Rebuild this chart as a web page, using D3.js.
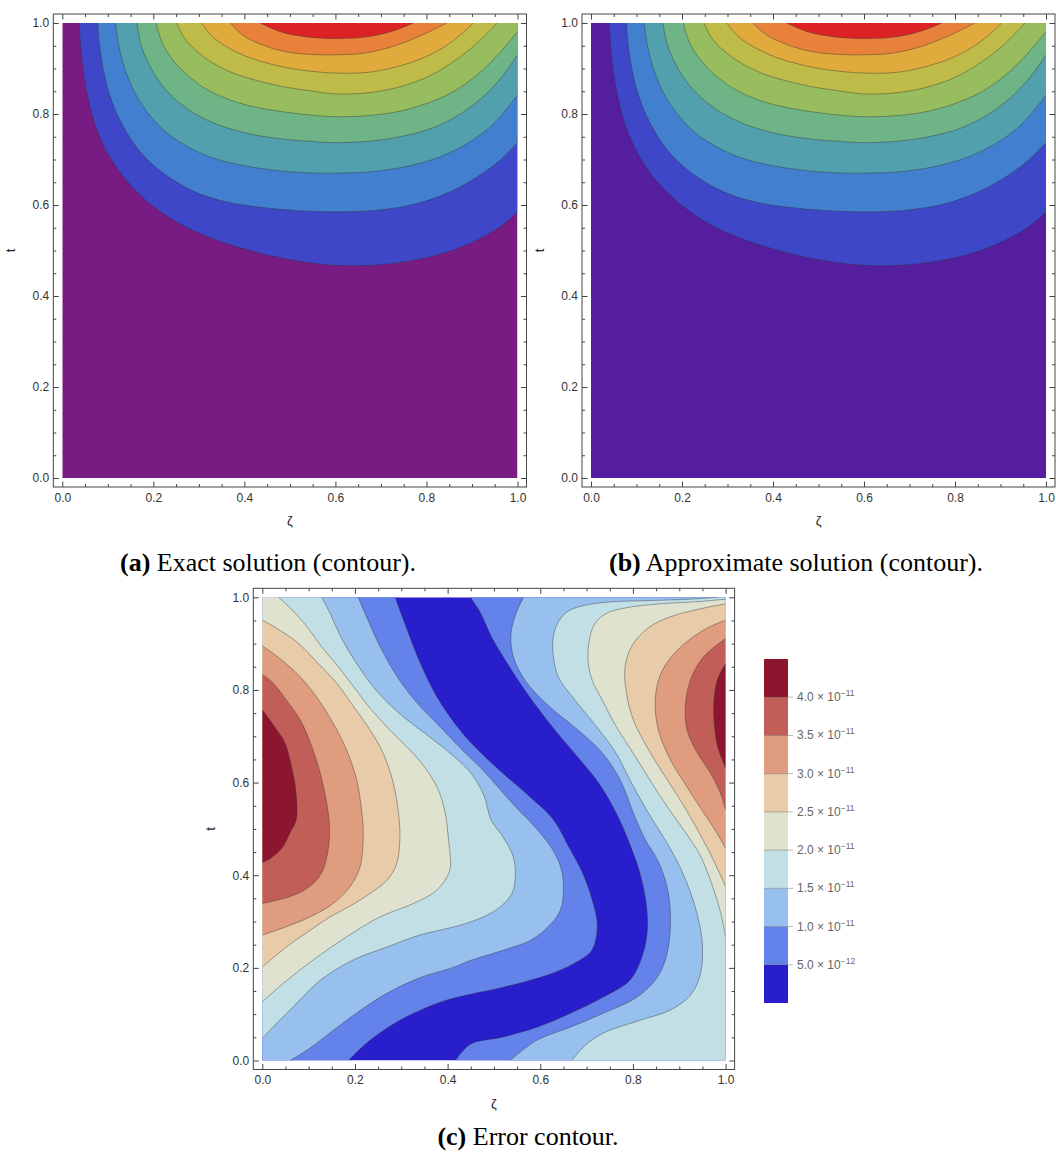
<!DOCTYPE html>
<html>
<head>
<meta charset="utf-8">
<script src="https://cdn.jsdelivr.net/npm/d3@7"></script>
<style>
body { margin: 0; background: #fff; }
</style>
</head>
<body>
<script>
// ---- tick values shared by all frames ----
var majorTicks = [0, 0.2, 0.4, 0.6, 0.8, 1.0];
var minorTicks = [0.05, 0.1, 0.15, 0.25, 0.3, 0.35, 0.45, 0.5, 0.55, 0.65, 0.7, 0.75, 0.85, 0.9, 0.95];

// ---- (a) exact solution: contour lines, [zeta, t], lowest level first ----
var exact1 = [[0.037,1],[0.041,0.941],[0.048,0.881],[0.059,0.824],[0.074,0.771],[0.096,0.721],[0.125,0.675],[0.162,0.631],[0.208,0.591],[0.263,0.556],[0.325,0.528],[0.391,0.506],[0.468,0.486],[0.544,0.473],[0.610,0.467],[0.687,0.468],[0.764,0.477],[0.841,0.495],[0.907,0.521],[0.962,0.552],[1,0.585]];
var exact2 = [[0.078,1],[0.083,0.941],[0.094,0.879],[0.111,0.822],[0.136,0.769],[0.166,0.723],[0.204,0.684],[0.250,0.651],[0.303,0.624],[0.364,0.606],[0.435,0.595],[0.511,0.588],[0.599,0.585],[0.687,0.588],[0.775,0.602],[0.852,0.629],[0.918,0.666],[0.962,0.699],[1,0.737]];
var exact3 = [[0.117,1],[0.125,0.945],[0.140,0.892],[0.162,0.842],[0.193,0.796],[0.230,0.758],[0.276,0.728],[0.329,0.704],[0.391,0.688],[0.461,0.677],[0.533,0.671],[0.599,0.670],[0.676,0.673],[0.753,0.684],[0.830,0.706],[0.896,0.739],[0.951,0.782],[1,0.842]];
var exact4 = [[0.164,1],[0.173,0.952],[0.191,0.908],[0.217,0.866],[0.252,0.829],[0.296,0.798],[0.349,0.774],[0.408,0.757],[0.474,0.746],[0.544,0.740],[0.599,0.737],[0.672,0.740],[0.742,0.750],[0.813,0.769],[0.874,0.800],[0.929,0.842],[0.969,0.886],[1,0.930]];
var exact5 = [[0.206,1],[0.219,0.958],[0.241,0.921],[0.272,0.888],[0.309,0.859],[0.355,0.836],[0.408,0.819],[0.470,0.807],[0.533,0.799],[0.599,0.794],[0.665,0.796],[0.731,0.804],[0.797,0.822],[0.857,0.848],[0.909,0.884],[0.955,0.928],[1,0.981]];
var exact6 = [[0.251,1],[0.268,0.967],[0.294,0.939],[0.329,0.913],[0.373,0.891],[0.426,0.874],[0.485,0.860],[0.544,0.851],[0.599,0.844],[0.665,0.846],[0.731,0.857],[0.797,0.879],[0.852,0.910],[0.907,0.952],[0.955,1]];
var exact7 = [[0.306,1],[0.329,0.971],[0.364,0.946],[0.408,0.925],[0.461,0.909],[0.522,0.897],[0.599,0.890],[0.676,0.892],[0.742,0.906],[0.797,0.925],[0.852,0.956],[0.903,1]];
var exact8 = [[0.369,1],[0.397,0.973],[0.439,0.952],[0.490,0.937],[0.544,0.931],[0.599,0.930],[0.665,0.934],[0.731,0.950],[0.791,0.974],[0.845,1]];
var exact9 = [[0.435,1],[0.479,0.981],[0.533,0.970],[0.599,0.966],[0.665,0.969],[0.725,0.982],[0.771,1]];

// ---- (b) approximate solution ----
var approx1 = [[0.040,1],[0.044,0.941],[0.051,0.881],[0.062,0.824],[0.077,0.771],[0.099,0.721],[0.127,0.675],[0.164,0.631],[0.210,0.591],[0.264,0.556],[0.326,0.528],[0.392,0.506],[0.468,0.486],[0.544,0.473],[0.610,0.467],[0.687,0.468],[0.764,0.477],[0.841,0.495],[0.907,0.521],[0.962,0.552],[1,0.585]];
var approx2 = [[0.078,1],[0.083,0.941],[0.094,0.879],[0.111,0.822],[0.136,0.769],[0.166,0.723],[0.204,0.684],[0.250,0.651],[0.303,0.624],[0.364,0.606],[0.435,0.595],[0.511,0.588],[0.599,0.585],[0.687,0.588],[0.775,0.602],[0.852,0.629],[0.918,0.666],[0.962,0.699],[1,0.737]];
var approx3 = [[0.117,1],[0.125,0.945],[0.140,0.892],[0.162,0.842],[0.193,0.796],[0.230,0.758],[0.276,0.728],[0.329,0.704],[0.391,0.688],[0.461,0.677],[0.533,0.671],[0.599,0.670],[0.676,0.673],[0.753,0.684],[0.830,0.706],[0.896,0.739],[0.951,0.782],[1,0.842]];
var approx4 = [[0.158,1],[0.168,0.952],[0.187,0.908],[0.214,0.866],[0.250,0.829],[0.295,0.798],[0.348,0.774],[0.408,0.757],[0.474,0.746],[0.544,0.740],[0.599,0.737],[0.672,0.740],[0.742,0.750],[0.813,0.769],[0.874,0.800],[0.929,0.842],[0.969,0.886],[1,0.930]];
var approx5 = [[0.203,1],[0.216,0.958],[0.239,0.921],[0.270,0.888],[0.308,0.859],[0.354,0.836],[0.408,0.819],[0.470,0.807],[0.533,0.799],[0.599,0.794],[0.665,0.796],[0.731,0.804],[0.797,0.822],[0.857,0.848],[0.909,0.884],[0.955,0.928],[1,0.981]];
var approx6 = [[0.248,1],[0.265,0.967],[0.292,0.939],[0.328,0.913],[0.372,0.891],[0.425,0.874],[0.485,0.860],[0.544,0.851],[0.599,0.844],[0.665,0.846],[0.731,0.857],[0.797,0.879],[0.852,0.910],[0.907,0.952],[0.954,1]];
var approx7 = [[0.298,1],[0.323,0.971],[0.360,0.946],[0.405,0.925],[0.459,0.909],[0.521,0.897],[0.599,0.890],[0.676,0.892],[0.742,0.906],[0.797,0.925],[0.852,0.956],[0.903,1]];
var approx8 = [[0.355,1],[0.387,0.973],[0.432,0.952],[0.486,0.937],[0.543,0.931],[0.599,0.930],[0.665,0.934],[0.731,0.950],[0.791,0.974],[0.844,1]];
var approx9 = [[0.430,1],[0.476,0.981],[0.532,0.970],[0.599,0.966],[0.665,0.969],[0.725,0.982],[0.771,1]];

// ---- (c) error contour lines, [zeta, t] ----
var err05L = [[0.287,1],[0.313,0.929],[0.341,0.858],[0.377,0.785],[0.427,0.713],[0.470,0.666],[0.524,0.616],[0.578,0.569],[0.626,0.523],[0.665,0.455],[0.693,0.401],[0.712,0.347],[0.723,0.293],[0.712,0.239],[0.686,0.217],[0.628,0.189],[0.520,0.158],[0.449,0.143],[0.384,0.126],[0.297,0.087],[0.233,0.044],[0.186,0]];
var err05R = [[0.449,1],[0.470,0.968],[0.496,0.912],[0.531,0.854],[0.574,0.789],[0.628,0.718],[0.686,0.649],[0.729,0.595],[0.766,0.530],[0.794,0.465],[0.816,0.401],[0.829,0.336],[0.831,0.282],[0.822,0.232],[0.794,0.174],[0.736,0.137],[0.665,0.102],[0.593,0.072],[0.520,0.051],[0.449,0.035],[0.417,0]];
var err10L = [[0.207,1],[0.228,0.951],[0.255,0.892],[0.292,0.827],[0.335,0.771],[0.385,0.719],[0.432,0.670],[0.477,0.626],[0.515,0.583],[0.550,0.544],[0.585,0.508],[0.621,0.464],[0.643,0.421],[0.650,0.374],[0.643,0.324],[0.615,0.287],[0.578,0.259],[0.520,0.238],[0.449,0.216],[0.412,0.201],[0.341,0.179],[0.269,0.145],[0.211,0.108],[0.153,0.065],[0.103,0.027],[0.060,0]];
var err10R = [[0.564,1],[0.548,0.966],[0.537,0.923],[0.541,0.875],[0.567,0.821],[0.621,0.763],[0.682,0.713],[0.734,0.664],[0.773,0.605],[0.801,0.534],[0.827,0.476],[0.853,0.433],[0.874,0.374],[0.881,0.303],[0.874,0.232],[0.853,0.180],[0.809,0.137],[0.736,0.102],[0.665,0.072],[0.593,0.044],[0.535,0]];
var err15L = [[0.128,1],[0.146,0.966],[0.170,0.914],[0.203,0.858],[0.245,0.800],[0.295,0.750],[0.350,0.707],[0.405,0.664],[0.450,0.621],[0.478,0.573],[0.494,0.519],[0.520,0.482],[0.542,0.439],[0.546,0.396],[0.539,0.361],[0.513,0.331],[0.477,0.310],[0.427,0.292],[0.341,0.271],[0.269,0.245],[0.196,0.217],[0.125,0.173],[0.066,0.115],[0.023,0.072],[0,0.048]];
var err15R = [[0.984,1],[0.924,0.996],[0.837,0.993],[0.751,0.990],[0.697,0.983],[0.660,0.970],[0.639,0.947],[0.628,0.914],[0.628,0.875],[0.639,0.828],[0.675,0.778],[0.719,0.724],[0.762,0.666],[0.794,0.605],[0.827,0.545],[0.863,0.487],[0.894,0.433],[0.920,0.374],[0.939,0.314],[0.950,0.249],[0.945,0.184],[0.924,0.141],[0.881,0.109],[0.816,0.087],[0.740,0.061],[0.697,0.033],[0.668,0]];
var err20L = [[0.035,1],[0.064,0.973],[0.096,0.937],[0.128,0.893],[0.161,0.854],[0.197,0.807],[0.233,0.760],[0.276,0.713],[0.319,0.670],[0.355,0.627],[0.380,0.584],[0.395,0.534],[0.402,0.476],[0.405,0.447],[0.405,0.411],[0.377,0.368],[0.326,0.339],[0.254,0.310],[0.182,0.267],[0.110,0.217],[0.053,0.173],[0,0.127]];
var err20R = [[1,0.996],[0.945,0.991],[0.859,0.986],[0.783,0.977],[0.740,0.964],[0.716,0.940],[0.706,0.908],[0.703,0.865],[0.712,0.821],[0.734,0.778],[0.762,0.724],[0.799,0.666],[0.837,0.605],[0.876,0.545],[0.913,0.493],[0.945,0.443],[0.971,0.379],[0.989,0.320],[1,0.267]];
var err25L = [[0,0.951],[0.031,0.933],[0.074,0.904],[0.117,0.861],[0.161,0.814],[0.197,0.764],[0.233,0.713],[0.261,0.663],[0.283,0.598],[0.294,0.533],[0.297,0.480],[0.290,0.425],[0.269,0.389],[0.233,0.361],[0.189,0.333],[0.146,0.310],[0.103,0.281],[0.052,0.245],[0,0.202]];
var err25R = [[1,0.986],[0.945,0.975],[0.881,0.958],[0.833,0.934],[0.799,0.897],[0.783,0.850],[0.786,0.793],[0.801,0.735],[0.829,0.679],[0.863,0.623],[0.898,0.569],[0.930,0.515],[0.963,0.454],[0.984,0.411],[1,0.375]];
var err30L = [[0,0.895],[0.038,0.868],[0.081,0.829],[0.117,0.785],[0.153,0.728],[0.182,0.670],[0.204,0.605],[0.215,0.533],[0.218,0.490],[0.211,0.418],[0.189,0.375],[0.153,0.339],[0.103,0.310],[0.052,0.289],[0,0.271]];
var err30R = [[1,0.951],[0.952,0.929],[0.896,0.886],[0.861,0.837],[0.848,0.778],[0.855,0.713],[0.881,0.649],[0.917,0.590],[0.952,0.536],[0.980,0.493],[1,0.458]];
var err35L = [[0,0.834],[0.024,0.814],[0.052,0.778],[0.082,0.735],[0.107,0.677],[0.125,0.620],[0.138,0.562],[0.145,0.505],[0.142,0.455],[0.128,0.405],[0.100,0.374],[0.060,0.354],[0,0.339]];
var err35R = [[1,0.911],[0.952,0.871],[0.924,0.821],[0.913,0.763],[0.917,0.713],[0.939,0.664],[0.967,0.621],[0.989,0.577],[1,0.541]];
var err40L = [[0,0.757],[0.027,0.720],[0.049,0.685],[0.063,0.634],[0.073,0.577],[0.073,0.519],[0.060,0.492],[0.042,0.458],[0.017,0.436],[0,0.427]];
var err40R = [[1,0.857],[0.982,0.821],[0.975,0.778],[0.975,0.735],[0.982,0.681],[1,0.631]];

// legend levels of (c)
var errLevels = ["5.0", "1.0", "1.5", "2.0", "2.5", "3.0", "3.5", "4.0"];
var errExps = ["12", "11", "11", "11", "11", "11", "11", "11"];

// ---- palettes ----
var solColors = ["#781c84", "#3d47c8", "#427fcf", "#52a0ae", "#6fb486", "#98bd5f", "#bebb48", "#e0ab3c", "#e8813a", "#dc2224"];
var approxBase = "#541e9e";
var errColors = ["#281ecb", "#6383eb", "#97c0ef", "#c2dfe6", "#dfe2cf", "#e8cba9", "#df9c7e", "#c25e58", "#8b162e"];

var width = 1056, height = 1160;
var svg = d3.select("body").append("svg").attr("width", width).attr("height", height);

var sans = "'Liberation Sans', Arial, sans-serif";
var serif = "'Liberation Serif', 'Times New Roman', serif";
var pad = 9;

// contour list helpers
function solList(lines) {
  return lines.map(function(pts, i) {
    var last = pts[pts.length - 1];
    return { level: i + 1, pts: pts, via: last[0] === 1 ? [[1, 1]] : [] };
  });
}

var errList = [
  { level: 1, pts: err05L, via: [[0, 0], [0, 1]] },
  { level: 1, pts: err05R, via: [[1, 0], [1, 1]] },
  { level: 2, pts: err10L, via: [[0, 0], [0, 1]] },
  { level: 2, pts: err10R, via: [[1, 0], [1, 1]] },
  { level: 3, pts: err15L, via: [[0, 1]] },
  { level: 3, pts: err15R, via: [[1, 0], [1, 1]] },
  { level: 4, pts: err20L, via: [[0, 1]] },
  { level: 4, pts: err20R, via: [] },
  { level: 5, pts: err25L, via: [] },
  { level: 5, pts: err25R, via: [] },
  { level: 6, pts: err30L, via: [] },
  { level: 6, pts: err30R, via: [] },
  { level: 7, pts: err35L, via: [] },
  { level: 7, pts: err35R, via: [] },
  { level: 8, pts: err40L, via: [] },
  { level: 8, pts: err40R, via: [] }
];

var clipCount = 0;
function drawPanel(opt) {
  var x = d3.scaleLinear().domain([0, 1]).range(opt.xr);
  var y = d3.scaleLinear().domain([0, 1]).range(opt.yr);
  var g = svg.append("g");
  var id = "clip" + (clipCount++);
  g.append("clipPath").attr("id", id).append("rect")
    .attr("x", x(0)).attr("y", y(1)).attr("width", x(1) - x(0)).attr("height", y(0) - y(1));

  var plot = g.append("g").attr("clip-path", "url(#" + id + ")");
  plot.append("rect").attr("x", x(0)).attr("y", y(1)).attr("width", x(1) - x(0)).attr("height", y(0) - y(1))
    .attr("fill", opt.base);

  var line = d3.line().x(function(d) { return x(d[0]); }).y(function(d) { return y(d[1]); })
    .curve(d3.curveCatmullRom.alpha(0.5));

  opt.contours.forEach(function(c) {
    var d = line(c.pts) + c.via.map(function(p) { return "L" + x(p[0]) + "," + y(p[1]); }).join("") + "Z";
    plot.append("path").attr("d", d).attr("fill", opt.colors[c.level]);
  });
  opt.contours.forEach(function(c) {
    plot.append("path").attr("d", line(c.pts)).attr("fill", "none")
      .attr("stroke", "#333").attr("stroke-opacity", 0.6).attr("stroke-width", 0.7);
  });

  // frame
  var fx0 = x(0) - pad, fx1 = x(1) + pad, fy0 = y(0) + pad, fy1 = y(1) - pad;
  function axisStyle(a) {
    a.select(".domain").remove();
    a.attr("font-family", sans).attr("font-size", 12).attr("color", "#444");
    a.selectAll("text").attr("fill", "#333");
  }
  var fmt = d3.format(".1f");
  g.append("g").attr("transform", "translate(0," + fy0 + ")")
    .call(d3.axisBottom(x).tickValues(majorTicks).tickSize(-5.5).tickPadding(6).tickFormat(fmt)).call(axisStyle);
  g.append("g").attr("transform", "translate(0," + fy0 + ")")
    .call(d3.axisBottom(x).tickValues(minorTicks).tickSize(-3).tickFormat("")).call(axisStyle);
  g.append("g").attr("transform", "translate(0," + fy1 + ")")
    .call(d3.axisTop(x).tickValues(majorTicks).tickSize(-5.5).tickFormat("")).call(axisStyle);
  g.append("g").attr("transform", "translate(0," + fy1 + ")")
    .call(d3.axisTop(x).tickValues(minorTicks).tickSize(-3).tickFormat("")).call(axisStyle);
  g.append("g").attr("transform", "translate(" + fx0 + ",0)")
    .call(d3.axisLeft(y).tickValues(majorTicks).tickSize(-5.5).tickPadding(4).tickFormat(fmt)).call(axisStyle);
  g.append("g").attr("transform", "translate(" + fx0 + ",0)")
    .call(d3.axisLeft(y).tickValues(minorTicks).tickSize(-3).tickFormat("")).call(axisStyle);
  g.append("g").attr("transform", "translate(" + fx1 + ",0)")
    .call(d3.axisRight(y).tickValues(majorTicks).tickSize(-5.5).tickFormat("")).call(axisStyle);
  g.append("g").attr("transform", "translate(" + fx1 + ",0)")
    .call(d3.axisRight(y).tickValues(minorTicks).tickSize(-3).tickFormat("")).call(axisStyle);

  g.append("rect").attr("x", fx0).attr("y", fy1).attr("width", fx1 - fx0).attr("height", fy0 - fy1)
    .attr("fill", "none").attr("stroke", "#444").attr("stroke-width", 1);

  // axis titles
  g.append("text").attr("x", (fx0 + fx1) / 2).attr("y", fy0 + 38)
    .attr("text-anchor", "middle").attr("font-family", sans).attr("font-size", 13).attr("fill", "#222").text("ζ");
  g.append("text").attr("transform", "translate(" + (fx0 - 38) + "," + ((fy0 + fy1) / 2) + ") rotate(-90)")
    .attr("text-anchor", "middle").attr("font-family", sans).attr("font-size", 13).attr("fill", "#222").text("t");

  // caption
  var cap = g.append("text").attr("x", opt.capX).attr("y", opt.capY).attr("text-anchor", "middle")
    .attr("font-family", serif).attr("font-size", 26).attr("fill", "#000");
  cap.append("tspan").attr("font-weight", "bold").text(opt.capTag);
  cap.append("tspan").text(" " + opt.capText);
  return { x: x, y: y };
}

drawPanel({ xr: [62.3, 517.5], yr: [478, 23], base: solColors[0], colors: solColors,
  contours: solList([exact1, exact2, exact3, exact4, exact5, exact6, exact7, exact8, exact9]),
  capX: 268, capY: 571, capTag: "(a)", capText: "Exact solution (contour)." });

drawPanel({ xr: [591, 1046], yr: [478, 23], base: approxBase, colors: [approxBase].concat(solColors.slice(1)),
  contours: solList([approx1, approx2, approx3, approx4, approx5, approx6, approx7, approx8, approx9]),
  capX: 796, capY: 571, capTag: "(b)", capText: "Approximate solution (contour)." });

drawPanel({ xr: [262.3, 725.6], yr: [1060.5, 597.3], base: errColors[0], colors: errColors,
  contours: errList,
  capX: 528, capY: 1145, capTag: "(c)", capText: "Error contour." });

// ---- legend of (c) ----
var leg = svg.append("g");
var ly = d3.scaleLinear().domain([0, errColors.length]).range([1003, 659]);
leg.selectAll("rect.band").data(errColors).enter().append("rect").attr("class", "band")
  .attr("x", 764).attr("width", 24)
  .attr("y", function(d, i) { return ly(i + 1); })
  .attr("height", function(d, i) { return ly(i) - ly(i + 1); })
  .attr("fill", function(d) { return d; });
leg.selectAll("line.sep").data(errLevels).enter().append("line").attr("class", "sep")
  .attr("x1", 764).attr("x2", 788)
  .attr("y1", function(d, i) { return ly(i + 1); }).attr("y2", function(d, i) { return ly(i + 1); })
  .attr("stroke", "#555").attr("stroke-opacity", 0.5).attr("stroke-width", 0.8);
leg.selectAll("line.tk").data(errLevels).enter().append("line").attr("class", "tk")
  .attr("x1", 788).attr("x2", 793)
  .attr("y1", function(d, i) { return ly(i + 1); }).attr("y2", function(d, i) { return ly(i + 1); })
  .attr("stroke", "#aaa").attr("stroke-width", 0.8);
var lbl = leg.selectAll("text.lbl").data(errLevels).enter().append("text").attr("class", "lbl")
  .attr("x", 797).attr("y", function(d, i) { return ly(i + 1) + 4; })
  .attr("font-family", sans).attr("font-size", 12).attr("fill", "#666");
lbl.append("tspan").text(function(d) { return d + " × 10"; });
lbl.append("tspan").attr("dy", -5).attr("font-size", 8.5).text(function(d, i) { return "−" + errExps[i]; });
</script>
</body>
</html>
